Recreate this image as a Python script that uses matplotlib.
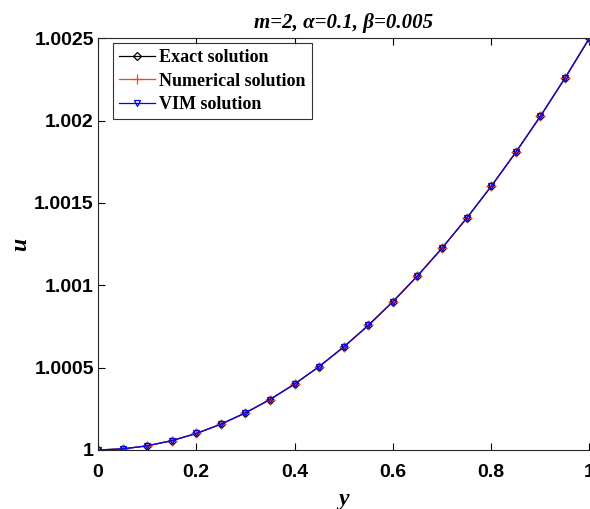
import matplotlib
import matplotlib.pyplot as plt
from matplotlib.ticker import FixedLocator

matplotlib.use('agg')

y_pts = [0.0, 0.05, 0.1, 0.15, 0.2, 0.25, 0.3, 0.35, 0.4, 0.45, 0.5,
         0.55, 0.6, 0.65, 0.7, 0.75, 0.8, 0.85, 0.9, 0.95, 1.0]
u_exact = [1.0, 1.0000063, 1.000025, 1.0000563, 1.0001, 1.0001563, 1.000225,
           1.0003063, 1.0004, 1.0005063, 1.000625, 1.0007563, 1.0009,
           1.0010563, 1.001225, 1.0014063, 1.0016, 1.0018063, 1.002025,
           1.0022563, 1.0025]
u_num = list(u_exact)
u_vim = list(u_exact)

x_ticks = [0, 0.2, 0.4, 0.6, 0.8, 1]
x_labels = ['0', '0.2', '0.4', '0.6', '0.8', '1']
u_ticks = [1, 1.0005, 1.001, 1.0015, 1.002, 1.0025]
u_labels = ['1', '1.0005', '1.001', '1.0015', '1.002', '1.0025']

serif = 'Liberation Serif'
sans = 'Liberation Sans'

fig = plt.figure(figsize=(5.9, 5.09), dpi=100)
ax = fig.add_axes([0.166, 0.116, 0.833, 0.809])

ax.plot(y_pts, u_exact, color='black', lw=0.9, marker='D', ms=4.5,
        mfc='none', mew=0.9, label='Exact solution')
ax.plot(y_pts, u_num, color='#ff4500', lw=0.9, marker='+', ms=7,
        mew=0.9, label='Numerical solution')
ax.plot(y_pts, u_vim, color='#0000ff', lw=0.9, marker='v', ms=5,
        mfc='none', mew=0.9, label='VIM solution')

ax.set_xlim(0, 1)
ax.set_ylim(1, 1.0025)
ax.xaxis.set_major_locator(FixedLocator(x_ticks))
ax.yaxis.set_major_locator(FixedLocator(u_ticks))
ax.set_xticklabels(x_labels, fontfamily=sans, fontweight='bold', fontsize=14)
ax.set_yticklabels(u_labels, fontfamily=sans, fontweight='bold', fontsize=14)
ax.tick_params(direction='in', top=True, right=False, length=5, width=0.8)
ax.tick_params(axis='x', pad=10)
ax.tick_params(axis='y', pad=3)
ax.spines['right'].set_visible(False)
for s in ['left', 'bottom', 'top']:
    ax.spines[s].set_linewidth(0.8)
    ax.spines[s].set_color('#262626')

ax.set_xlabel('y', fontfamily=serif, fontweight='bold', style='italic',
              fontsize=17)
ax.set_ylabel('u', fontfamily=serif, fontweight='bold', style='italic',
              fontsize=17)
ax.xaxis.set_label_coords(0.5, -39 / 412)
ax.yaxis.set_label_coords(-67 / 491, 0.5)
ax.set_title('m=2, α=0.1, β=0.005', fontfamily=serif,
             fontweight='bold', style='italic', fontsize=15, pad=7)

leg = ax.legend(loc='upper left', bbox_to_anchor=(15 / 491, 1 - 5 / 412),
                borderaxespad=0,
                prop={'family': serif, 'weight': 'bold', 'size': 13},
                frameon=True, fancybox=False, edgecolor='black', handlelength=2.0,
                handletextpad=0.2, borderpad=0.35, labelspacing=0.35)
leg.get_frame().set_linewidth(0.8)

fig.savefig('out.png', dpi=100)
